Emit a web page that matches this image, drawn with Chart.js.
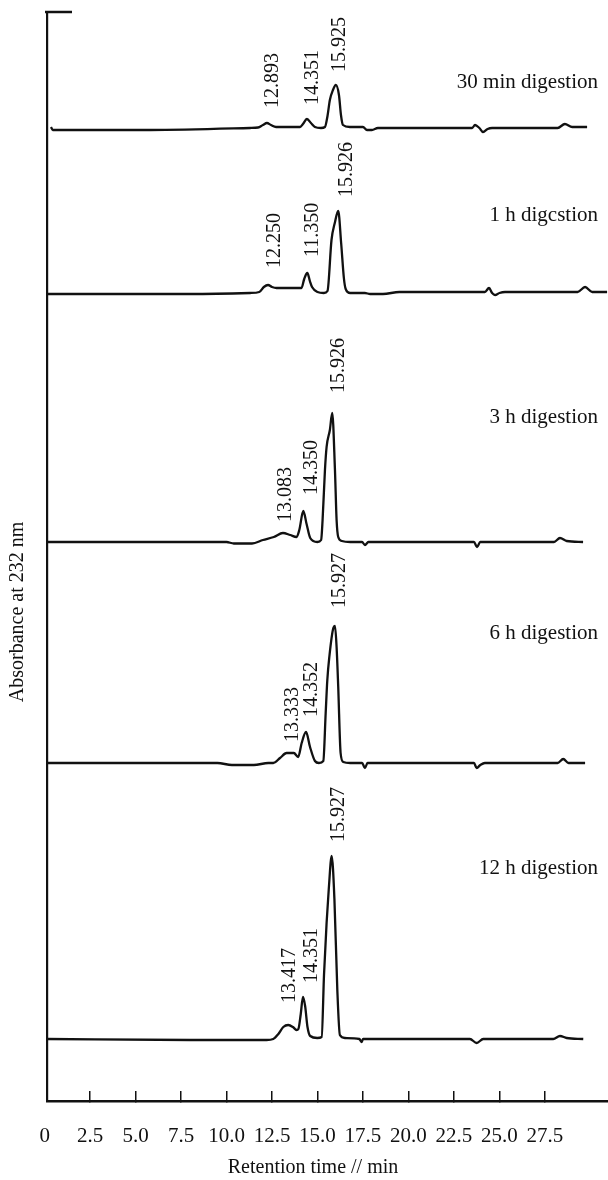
<!DOCTYPE html>
<html>
<head>
<meta charset="utf-8">
<script src="https://cdn.jsdelivr.net/npm/chart.js@4.4.1/dist/chart.umd.min.js"></script>
<style>
  html, body { margin: 0; padding: 0; background: #fff; }
  #wrap { width: 608px; height: 1180px; }
</style>
</head>
<body>
<div id="wrap"><canvas id="chart" width="608" height="1180"></canvas></div>
<script>
// sample names (top to bottom), typo in "1 h" kept as in the figure
const sampleNames = ['30 min digestion', '1 h digcstion', '3 h digestion', '6 h digestion', '12 h digestion'];
// vertical offset of each trace's baseline (stacked chromatograms)
const baselineLevel = [973, 808, 559, 338, 62];

const xTickValues = [0, 2.5, 5, 7.5, 10, 12.5, 15, 17.5, 20, 22.5, 25, 27.5];

// [retention time (min), absorbance above baseline]
const trace30min = [[0.35, 1], [0.45, -2], [5.8, -2], [11.29, 0], [11.73, 0.5], [12.0, 3], [12.22, 5], [12.44, 3], [12.72, 1],
  [13.49, 1], [14.04, 1], [14.2, 4], [14.42, 9], [14.64, 5], [14.86, 1], [15.19, 0], [15.41, 1], [15.55, 12], [15.68, 28],
  [15.85, 38], [16.01, 43], [16.18, 33], [16.29, 13], [16.4, 3], [16.78, 1], [17.5, 1], [17.72, -2], [17.99, -2], [18.32, 0],
  [23.5, 0], [23.66, 3], [23.9, 0], [24.1, -4], [24.35, -1], [24.6, 0], [28.2, 0], [28.6, 4], [29.0, 1], [29.82, 1]];

const trace1h = [[0.13, -1], [8, -1], [11.3, 0], [11.8, 1], [12.05, 6], [12.28, 8], [12.5, 6], [12.75, 5], [13.5, 5],
  [14.12, 5], [14.27, 14], [14.44, 20], [14.58, 12], [14.7, 6], [15.0, 1], [15.35, 0], [15.55, 2], [15.77, 53], [15.95, 70],
  [16.14, 82], [16.3, 50], [16.45, 15], [16.55, 4], [16.8, 0], [17.6, 0], [17.9, -1], [18.6, -1], [19.5, 1], [24.2, 1],
  [24.43, 5], [24.6, 0], [24.76, -2], [25.0, 0], [25.31, 1], [29.3, 1], [29.71, 6], [30.1, 1], [30.92, 1]];

const trace3h = [[0.13, 0], [10.0, 0], [10.4, -1.5], [11.4, -1.5], [12.0, 2], [12.6, 5], [13.1, 9], [13.5, 7], [13.85, 5],
  [14.0, 12], [14.22, 31], [14.4, 18], [14.6, 4], [14.99, 0], [15.2, 2], [15.28, 22], [15.41, 72], [15.5, 95], [15.68, 112],
  [15.81, 129], [15.96, 72], [16.05, 22], [16.14, 5], [16.34, 1], [16.8, 0], [17.45, 0], [17.61, -3], [17.8, 0],
  [23.6, 0], [23.77, -5], [23.95, 0], [28.0, 0], [28.33, 4], [28.7, 1], [29.6, 0]];

const trace6h = [[0.13, 0], [9.5, 0], [10.3, -2], [11.5, -2], [12.3, 0], [12.57, 0], [12.94, 5], [13.3, 10], [13.7, 10],
  [13.94, 6], [14.13, 20], [14.37, 31], [14.59, 16], [14.86, 2], [15.08, 0], [15.32, 2], [15.45, 50], [15.54, 83],
  [15.65, 106], [15.87, 135], [15.96, 137], [16.05, 116], [16.14, 76], [16.27, 10], [16.42, 1], [16.8, 0], [17.45, 0],
  [17.61, -5], [17.75, 0], [23.6, 0], [23.75, -5], [23.95, -2], [24.2, 0], [28.2, 0], [28.51, 4], [28.8, 0], [29.71, 0]];

const trace12h = [[0.13, 0], [8, -1], [12.2, -1], [12.57, 0], [12.85, 5], [13.12, 12], [13.39, 14], [13.65, 12], [13.85, 9],
  [13.95, 10], [14.08, 25], [14.2, 42], [14.32, 33], [14.45, 12], [14.6, 3], [14.99, 1], [15.23, 2], [15.36, 65],
  [15.5, 116], [15.62, 150], [15.78, 183], [15.93, 140], [16.09, 49], [16.23, 4], [16.51, 1], [17.3, 0], [17.42, -3],
  [17.51, 0], [23.38, 0], [23.75, -4], [24.11, 0], [27.96, 0], [28.33, 3], [28.7, 1], [29.61, 0]];

// peak labels: [text, time where the label sits, height above baseline]
const peakLabels = [
  [['12.893', 12.55, 20], ['14.351', 14.75, 23], ['15.925', 16.23, 56]],
  [['12.250', 12.66, 25], ['11.350', 14.75, 36], ['15.926', 16.62, 96]],
  [['13.083', 13.27, 20], ['14.350', 14.70, 47], ['15.926', 16.18, 149]],
  [['13.333', 13.65, 21], ['14.352', 14.70, 46], ['15.927', 16.23, 155]],
  [['13.417', 13.49, 36], ['14.351', 14.70, 56], ['15.927', 16.18, 197]]
];
const nameHeight = [46, 78, 125, 130, 171];
const nameTime = 30.42;

const serif = "'Liberation Serif', 'DejaVu Serif', serif";
const ink = '#111';

const traces = [trace30min, trace1h, trace3h, trace6h, trace12h];

const labelPlugin = {
  id: 'chromLabels',
  afterDraw(chart) {
    const {ctx, chartArea} = chart;
    const x = chart.scales.x, y = chart.scales.y;
    ctx.save();
    ctx.strokeStyle = ink;
    ctx.lineWidth = 2.5;
    ctx.beginPath();
    ctx.moveTo(chartArea.left - 2, chartArea.top);
    ctx.lineTo(chartArea.left + 25, chartArea.top);
    ctx.stroke();

    ctx.fillStyle = ink;
    ctx.font = '20px ' + serif;
    ctx.textAlign = 'left';
    ctx.textBaseline = 'middle';
    peakLabels.forEach((labels, i) => {
      labels.forEach(([text, t, h]) => {
        ctx.save();
        ctx.translate(x.getPixelForValue(t), y.getPixelForValue(baselineLevel[i] + h));
        ctx.rotate(-Math.PI / 2);
        ctx.fillText(text, 0, 0);
        ctx.restore();
      });
    });

    ctx.font = '21px ' + serif;
    ctx.textAlign = 'right';
    sampleNames.forEach((name, i) => {
      ctx.fillText(name, x.getPixelForValue(nameTime), y.getPixelForValue(baselineLevel[i] + nameHeight[i]));
    });

    // axis titles
    ctx.font = '20px ' + serif;
    ctx.textAlign = 'center';
    ctx.fillText('Retention time // min', 313, 1168);
    ctx.save();
    ctx.translate(18, 612);
    ctx.rotate(-Math.PI / 2);
    ctx.fillText('Absorbance at 232 nm', 0, 0);
    ctx.restore();
    ctx.restore();
  }
};

new Chart(document.getElementById('chart'), {
  type: 'line',
  data: {
    datasets: traces.map((tr, i) => ({
      label: sampleNames[i],
      data: tr.map(([t, a]) => ({x: t, y: baselineLevel[i] + a})),
      borderColor: ink,
      borderWidth: 2.3,
      pointRadius: 0,
      fill: false,
      cubicInterpolationMode: 'monotone'
    }))
  },
  options: {
    responsive: false,
    devicePixelRatio: 1,
    animation: false,
    layout: { padding: { top: 12, left: 0, right: 0, bottom: 0 } },
    plugins: { legend: { display: false }, tooltip: { enabled: false } },
    scales: {
      x: {
        type: 'linear',
        min: 0.13,
        max: 30.97,
        afterBuildTicks: s => { s.ticks = xTickValues.map(v => ({value: v})); },
        afterFit: s => { s.height = 79; },
        border: { display: true, color: ink, width: 2.5 },
        grid: {
          display: true,
          drawOnChartArea: false,
          drawTicks: true,
          tickLength: -10,
          lineWidth: 1.5,
          color: c => (c.tick && c.tick.value === 0) ? 'rgba(0,0,0,0)' : ink
        },
        ticks: {
          autoSkip: false,
          maxRotation: 0,
          minRotation: 0,
          padding: 33,
          color: ink,
          font: { family: serif, size: 21 },
          callback: v => v === 0 ? '0' : v.toFixed(1)
        }
      },
      y: {
        type: 'linear',
        min: 0,
        max: 1089,
        afterFit: s => { s.width = 47; },
        border: { display: true, color: ink, width: 2.2 },
        grid: { display: false },
        ticks: { display: false }
      }
    }
  },
  plugins: [labelPlugin]
});
</script>
</body>
</html>
